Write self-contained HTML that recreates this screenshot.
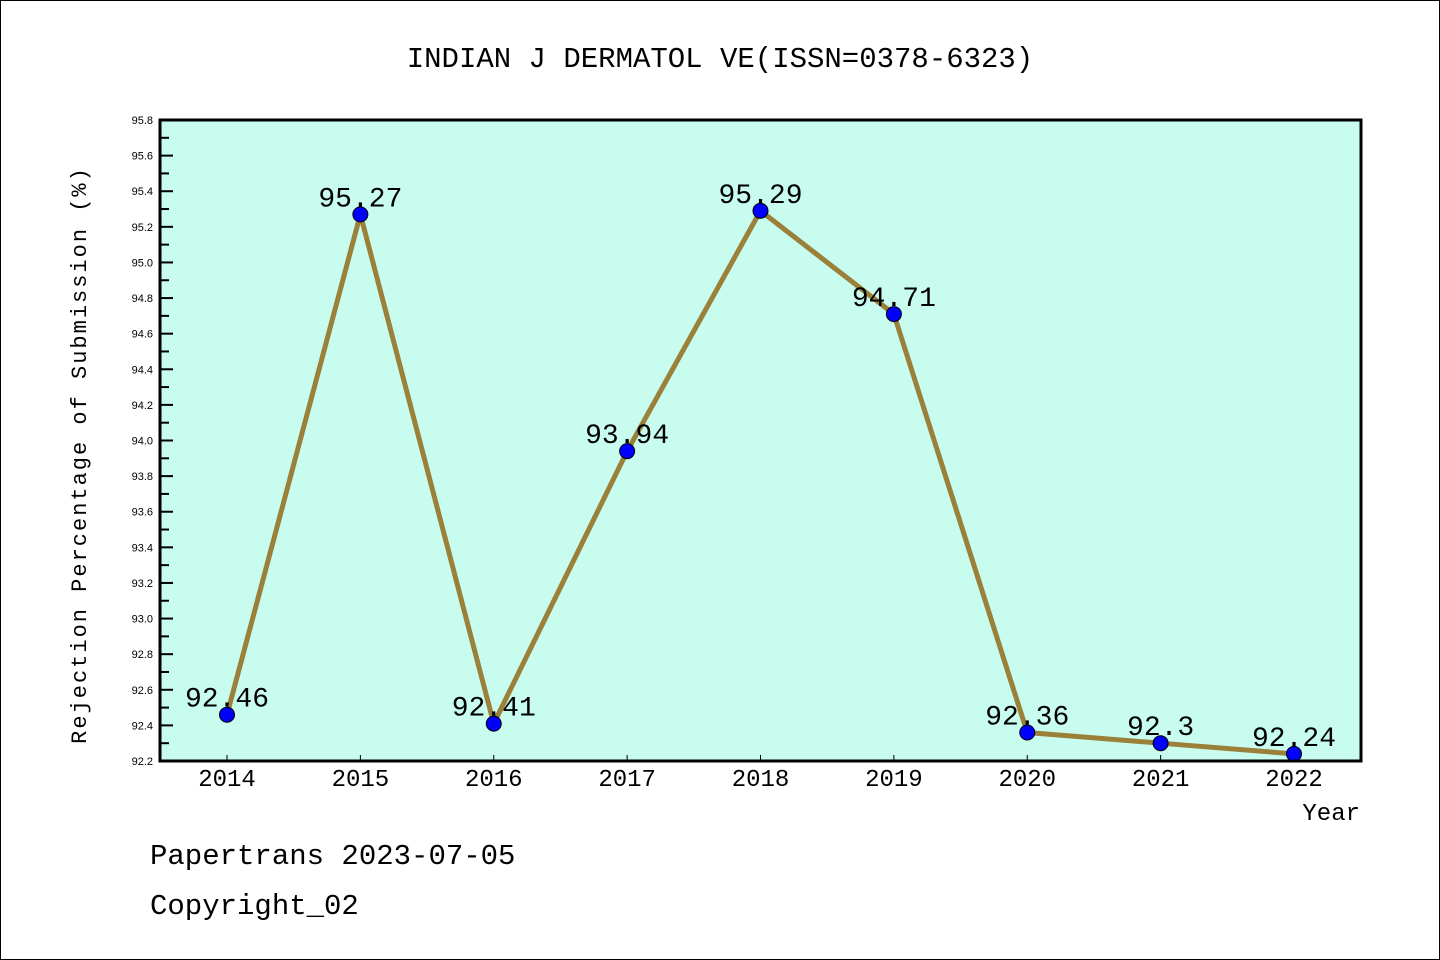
<!DOCTYPE html>
<html><head><meta charset="utf-8"><style>
body{margin:0;background:#fff}
svg{display:block;font-family:"Liberation Mono","DejaVu Sans Mono",monospace}
</style></head><body>
<svg id="chart" width="1440" height="960" xmlns="http://www.w3.org/2000/svg">
<rect x="0.5" y="0.5" width="1439" height="959" fill="#fff" stroke="#000"/>
<text x="720" y="67" text-anchor="middle" font-size="29">INDIAN J DERMATOL VE(ISSN=0378-6323)</text>
<rect x="160" y="120" width="1201" height="641" fill="#c8fcee"/>
<g id="axes"></g>
<g id="series"></g>
<rect x="160" y="120" width="1201" height="641" fill="none" stroke="#000" stroke-width="3"/>
<text x="86" y="455" transform="rotate(-90 86 455)" text-anchor="middle" font-size="22" letter-spacing="2">Rejection Percentage of Submission (%)</text>
<text x="1360" y="820" text-anchor="end" font-size="24">Year</text>
<text x="150" y="864" font-size="29">Papertrans 2023-07-05</text>
<text x="150" y="914" font-size="29">Copyright_02</text>
</svg>
<script>
const years = ["2014","2015","2016","2017","2018","2019","2020","2021","2022"];
const values = [92.46,95.27,92.41,93.94,95.29,94.71,92.36,92.3,92.24];
const labels = ["92.46","95.27","92.41","93.94","95.29","94.71","92.36","92.3","92.24"];
const yTicks = ["92.2","92.4","92.6","92.8","93.0","93.2","93.4","93.6","93.8","94.0","94.2","94.4","94.6","94.8","95.0","95.2","95.4","95.6","95.8"];
const NS="http://www.w3.org/2000/svg";
const yMin=92.2,yMax=95.8,yTop=120,yBot=761,xLeft=160;
const yS=v=>yBot-(v-yMin)/(yMax-yMin)*(yBot-yTop);
const xS=i=>227+i*133.375;
function mk(t,a,p){const e=document.createElementNS(NS,t);for(const k in a)e.setAttribute(k,a[k]);p.appendChild(e);return e;}
const axes=document.getElementById('axes'),ser=document.getElementById('series');
yTicks.forEach((t,i)=>{
  const v=parseFloat(t),yy=yS(v);
  const l=mk('line',{x1:xLeft,x2:xLeft+13,y1:yy,y2:yy,stroke:'#000','stroke-width':2},axes);
  
  
  const tx=mk('text',{x:153,y:yy+4,'text-anchor':'end','font-size':11,'font-family':'Liberation Sans, sans-serif'},axes);
  tx.textContent=t;
  
  
  if(i<yTicks.length-1){const ym=yS(v+0.1);
    const m=mk('line',{x1:xLeft,x2:xLeft+9,y1:ym,y2:ym,stroke:'#000','stroke-width':2},axes);
    
    }
});
years.forEach((yr,i)=>{
  const xx=xS(i);
  const l=mk('line',{x1:xx,x2:xx,y1:yBot,y2:yBot-6,stroke:'#000','stroke-width':1},axes);
  
  
  const tx=mk('text',{x:xx,y:786,'text-anchor':'middle','font-size':24},axes);
  tx.textContent=yr;
  
  
});
const pl=mk('polyline',{points:values.map((v,i)=>xS(i)+','+yS(v)).join(' '),fill:'none',stroke:'#9a8038','stroke-width':5},ser);


values.forEach((v,i)=>{
  const c=mk('circle',{cx:xS(i),cy:yS(v),r:7.5,fill:'#0000ff',stroke:'#000','stroke-width':1},ser);
  
  
  const t=mk('text',{x:xS(i),y:yS(v)-8,'text-anchor':'middle','font-size':28},ser);
  t.textContent=labels[i];
  
  
});
</script>
</body></html>
